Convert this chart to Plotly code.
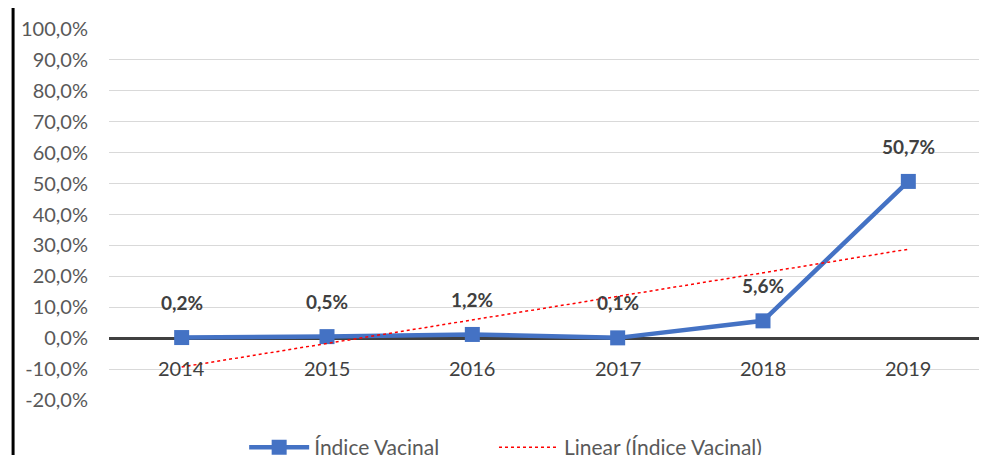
import numpy as np
import plotly.graph_objects as go

anos = ["2014", "2015", "2016", "2017", "2018", "2019"]
indice_vacinal = [0.2, 0.5, 1.2, 0.1, 5.6, 50.7]
rotulos = ["0,2%", "0,5%", "1,2%", "0,1%", "5,6%", "50,7%"]
y_ticks = [-20, -10, 0, 10, 20, 30, 40, 50, 60, 70, 80, 90, 100]
y_ticktext = [f"{v:.1f}".replace(".", ",") + "%" for v in y_ticks]

# Excel-style linear trendline computed from the series
xi = np.arange(1, len(anos) + 1)
coef = np.polyfit(xi, indice_vacinal, 1)
tendencia = list(np.polyval(coef, xi))

FONT = "Lato"
fig = go.Figure()
fig.add_trace(go.Scatter(
    x=anos, y=indice_vacinal, mode="lines+markers", name="Índice Vacinal",
    legend="legend",
    line=dict(color="#4472C4", width=4.5),
    marker=dict(symbol="square", size=15, color="#4472C4"),
))
fig.add_trace(go.Scatter(
    x=anos, y=tendencia, mode="lines", name="Linear (Índice Vacinal)",
    legend="legend2",
    line=dict(color="#FF0000", width=1.5, dash="dot"),
))

ann = []
for i, (a, v, r) in enumerate(zip(anos, indice_vacinal, rotulos)):
    ann.append(dict(x=i, y=v, xref="x", yref="y", text="<b>" + r + "</b>", showarrow=False,
                    yshift=35, font=dict(family=FONT, size=19, color="#404040")))
    ann.append(dict(x=i, y=0, xref="x", yref="y", text=a, showarrow=False,
                    yshift=-30, font=dict(family=FONT, size=20, color="#404040")))

leg_common = dict(orientation="h", xanchor="left", y=-0.128, yanchor="middle",
                  font=dict(family=FONT, size=21, color="#595959"), itemwidth=60,
                  bgcolor="rgba(0,0,0,0)")

fig.update_layout(
    width=987, height=455,
    margin=dict(l=101, r=14, t=21, b=63, autoexpand=False),
    paper_bgcolor="white", plot_bgcolor="white",
    font=dict(family=FONT, size=20, color="#595959"),
    xaxis=dict(type="category", range=[-0.5, len(anos) - 0.5], showticklabels=False,
               showgrid=False, zeroline=False, showline=False, ticks=""),
    yaxis=dict(range=[-20, 100], tickvals=y_ticks, ticktext=y_ticktext,
               showgrid=True, gridcolor="#d9d9d9", gridwidth=1,
               zeroline=True, zerolinecolor="#404040", zerolinewidth=2.5,
               showline=False, ticks="", ticklabelstandoff=20,
               tickfont=dict(family=FONT, size=20, color="#595959")),
    showlegend=True,
    legend=dict(x=0.155, **leg_common),
    legend2=dict(x=0.4415, **leg_common),
    annotations=ann,
    shapes=[dict(type="line", xref="paper", yref="paper", x0=-0.110, x1=-0.110,
                 y0=-0.2, y1=1.1, line=dict(color="black", width=3))],
)
fig.write_html("out.html")
